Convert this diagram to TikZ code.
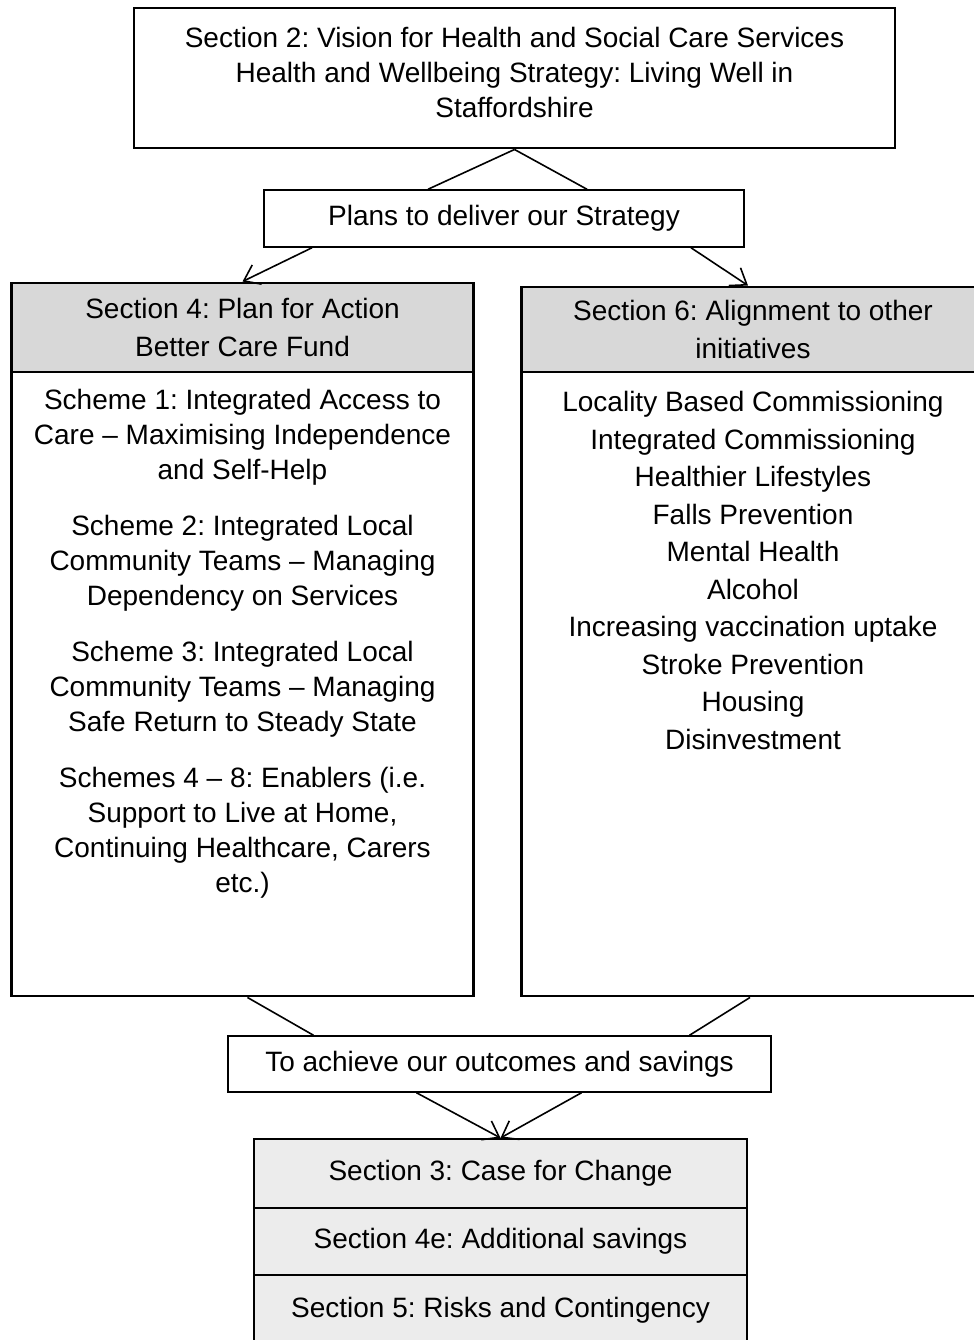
\documentclass[tikz,border=0pt]{standalone}
\usepackage{fontspec}
\setmainfont{Liberation Sans}
\usetikzlibrary{calc,arrows.meta}
\definecolor{headgray}{HTML}{D8D8D8}
\definecolor{stackgray}{HTML}{ECECEC}
\frenchspacing

\begin{document}
\begin{tikzpicture}[x=0.75pt, y=-0.75pt, ->,
  >={Straight Barb[length=11pt,width=16pt]}, line width=1.2pt,
  font=\fontsize{21}{26.25}\selectfont,
  box/.style={draw, rectangle, inner sep=0pt, align=center},
  heavy/.style={box, line width=2.2pt},
  thin/.style={box, line width=1.1pt},
  head/.style={heavy, fill=headgray, minimum width=347pt},
  panel/.style={heavy, minimum width=347pt, minimum height=468pt},
  stack/.style={box, line width=1.6pt, fill=stackgray, minimum width=369.75pt}]
    \useasboundingbox (0,0) rectangle (974,1340);
    \clip (0,0) rectangle (974,1340);
    % top of the chain
    \node[heavy, minimum width=570.75pt, minimum height=105pt] (vision) at (514.5,78) {};
    \node[align=center] (visiontext) at (514.5,72)
      {Section 2: Vision for Health and Social Care Services\\Health and Wellbeing Strategy: Living Well in\\Staffordshire};
    \node[thin, minimum width=360pt, minimum height=42.75pt] (plans) at (504,218.5)
      {Plans to deliver our Strategy};
    % the two columns
    \node[head, minimum height=66.75pt] (sec4head) at (242.5,327.5)
      {Section 4: Plan for Action\\[2pt]Better Care Fund};
    \node[panel] (sec4body) at (242.5,684) {};
    \node[align=center] (schemes) at (242.5,644)
      {Scheme 1: Integrated Access to\\Care -- Maximising Independence\\and Self-Help\\[15.75pt]
       Scheme 2: Integrated Local\\Community Teams -- Managing\\Dependency on Services\\[15.75pt]
       Scheme 3: Integrated Local\\Community Teams -- Managing\\Safe Return to Steady State\\[15.75pt]
       Schemes 4 -- 8: Enablers (i.e.\\Support to Live at Home,\\Continuing Healthcare, Carers\\etc.)};
    \node[head, minimum height=63.75pt] (sec6head) at (753,329.5)
      {Section 6: Alignment to other\\[2pt]initiatives};
    \node[panel] (sec6body) at (753,684) {};
    \node[align=center, font=\fontsize{21}{28.125}\selectfont] (initiatives) at (753,570.5)
      {Locality Based Commissioning\\Integrated Commissioning\\Healthier Lifestyles\\Falls Prevention\\Mental Health\\Alcohol\\Increasing vaccination uptake\\Stroke Prevention\\Housing\\Disinvestment};
    % outcomes
    \node[thin, minimum width=407.25pt, minimum height=42pt] (achieve) at (499.5,1064)
      {To achieve our outcomes and savings};
    \node[stack, minimum height=51.75pt] (sec3) at (500.5,1173.5) {Section 3: Case for Change};
    \node[stack, minimum height=50.25pt] (sec4e) at (500.5,1241.5) {Section 4e: Additional savings};
    \node[stack, minimum height=52.5pt] (sec5) at (500.5,1310) {Section 5: Risks and Contingency};
    % connectors
    \draw[-] (vision.south) -- ($(plans.north)+(-76,0)$);
    \draw[-] (vision.south) -- ($(plans.north)+(83,0)$);
    \draw ($(plans.south)+(-192,0)$) -- (sec4head.north);
    \draw ($(plans.south)+(187,0)$) -- ($(sec6head.north)+(-5,0)$);
    \draw[-] ($(sec4body.south)+(5,0)$) -- ($(achieve.north)+(-186,0)$);
    \draw[-] ($(sec6body.south)+(-3,0)$) -- ($(achieve.north)+(190,0)$);
    \draw ($(achieve.south)+(-83,0)$) -- (sec3.north);
    \draw ($(achieve.south)+(82,0)$) -- (sec3.north);
\end{tikzpicture}
\end{document}
